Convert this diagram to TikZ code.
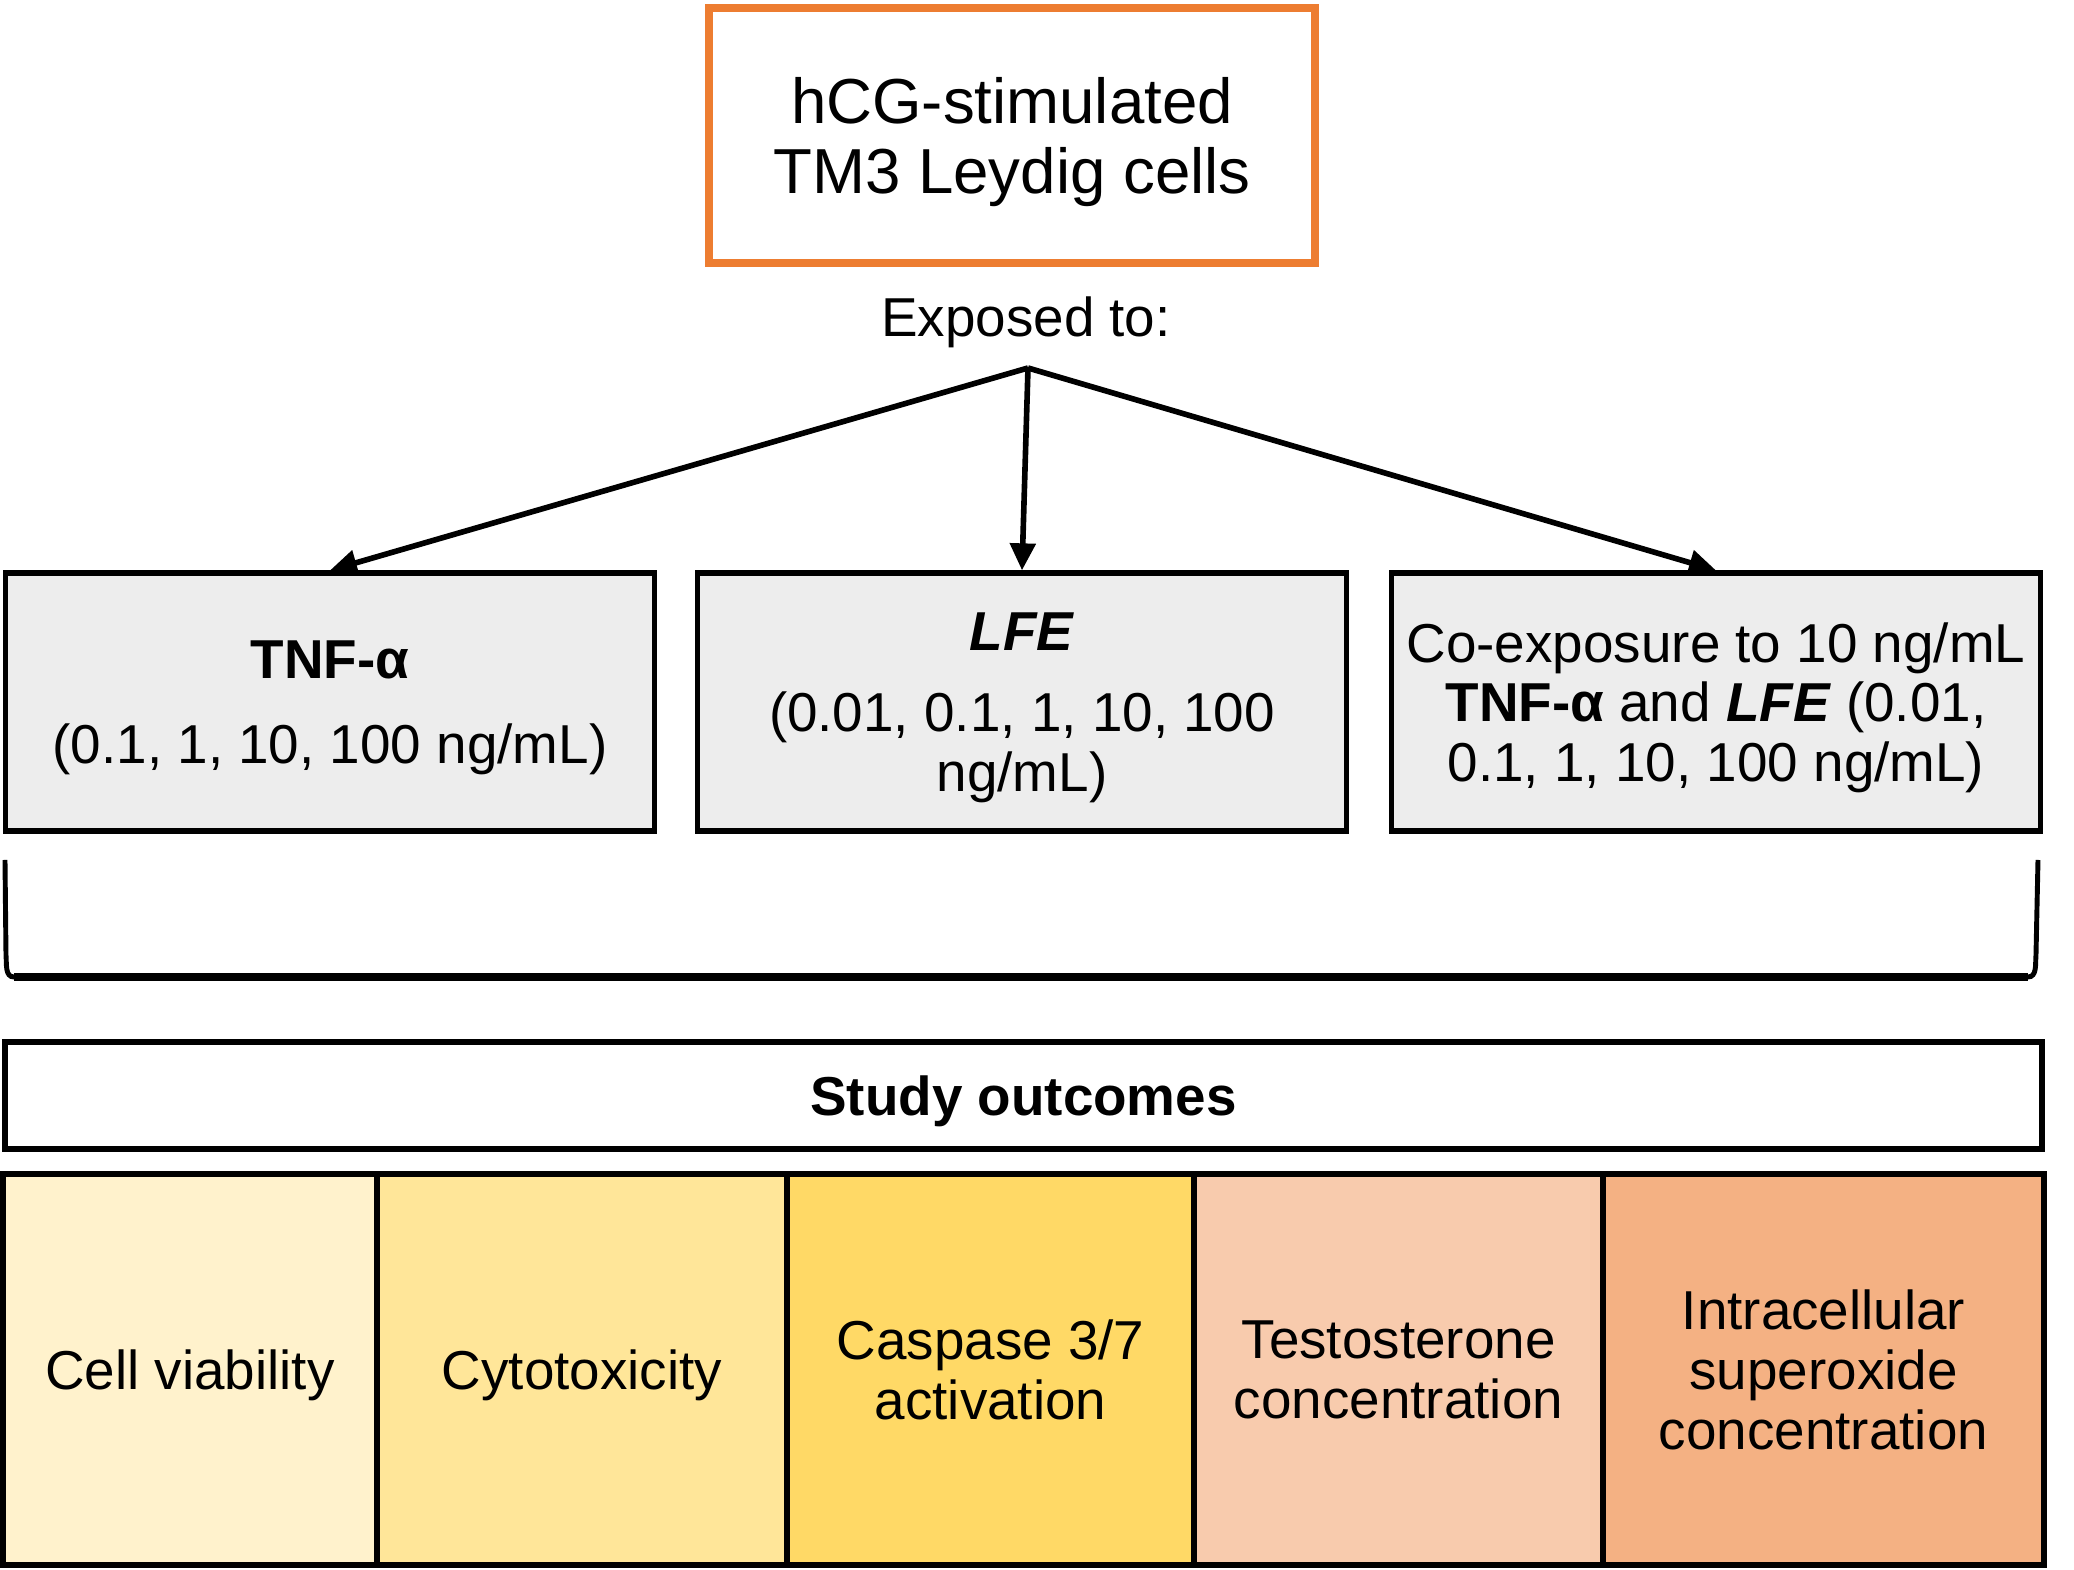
\documentclass[tikz,border=0pt]{standalone}
\usepackage{fontspec}
\setmainfont{Liberation Sans}
\usepackage{tikz}
\usetikzlibrary{positioning, arrows.meta}

\definecolor{cellorange}{HTML}{ED7D31}
\definecolor{groupgray}{HTML}{EDEDED}
\definecolor{outA}{HTML}{FFF2CC}
\definecolor{outB}{HTML}{FFE699}
\definecolor{outC}{HTML}{FFD966}
\definecolor{outD}{HTML}{F8CBAD}
\definecolor{outE}{HTML}{F4B183}

\begin{document}
\begin{tikzpicture}[
    cellbox/.style={rectangle, draw=cellorange, line width=2.3pt, minimum width=6.06cm,
                  minimum height=2.55cm, align=center, text depth=0pt,
                  font=\fontsize{18.1}{19.9}\selectfont},
    groupbox/.style={rectangle, draw=black, line width=1.5pt, fill=groupgray, minimum width=6.49cm,
                  minimum height=2.58cm, align=center, text depth=0pt,
                  font=\fontsize{15.6}{17}\selectfont},
    outcome/.style={rectangle, draw=black, line width=1.5pt, minimum height=3.91cm,
                  align=center, text depth=0pt, font=\fontsize{15.6}{17}\selectfont},
    arrow/.style={-{Triangle[length=2.7mm, width=2.5mm]}, line width=1.6pt},
    textlabel/.style={text depth=0pt, font=\fontsize{15.6}{17}\selectfont}
]
    \useasboundingbox (0, 0) rectangle (20.74, 15.70);

    % Cells
    \node[cellbox] (cells) at (10.12, 14.345) {hCG-stimulated\\TM3 Leydig cells};
    \node[textlabel] (exposed) at (10.26, 12.53) {Exposed to:};
    \coordinate (split) at (10.28, 12.02);

    % Exposure groups
    \node[groupbox] (tnf) at (3.30, 8.68) {\textbf{TNF-α}\\[7pt](0.1, 1, 10, 100 ng/mL)};
    \node[groupbox] (lfe) at (10.22, 8.68) {\textbf{\textit{LFE}}\\[6pt](0.01, 0.1, 1, 10, 100\\ng/mL)};
    \node[groupbox] (coexp) at (17.16, 8.68) {Co-exposure to 10 ng/mL\\\textbf{TNF-α} and \textbf{\textit{LFE}} (0.01,\\0.1, 1, 10, 100 ng/mL)};

    % Arrows
    \draw[arrow, line join=round] (split) -- (tnf.north);
    \draw[arrow] (split) -- (lfe.north);
    \draw[arrow, line join=round] (split) -- (coexp.north);

    % Bracket
    \draw[line width=1.4pt] (0.05, 7.10) -- (0.06, 6.15) to[out=-85, in=180] (0.14, 5.93)
        -- (20.28, 5.93) to[out=0, in=-95] (20.36, 6.15) -- (20.38, 7.10);
    \draw[line width=2.2pt] (0.14, 5.93) -- (20.28, 5.93);

    % Study outcomes
    \node[rectangle, draw=black, line width=1.5pt, minimum width=20.37cm, minimum height=1.07cm,
          text depth=0pt, font=\fontsize{15.6}{17}\selectfont\bfseries] (outcomes) at (10.235, 4.745) {Study outcomes};

    \node[outcome, fill=outA, minimum width=3.74cm] (viab) at (1.90, 2.005) {Cell viability};
    \node[outcome, fill=outB, minimum width=4.10cm] (cytox) at (5.82, 2.005) {Cytotoxicity};
    \node[outcome, fill=outC, minimum width=4.07cm] (casp) at (9.905, 2.005) {Caspase 3/7\\activation};
    \node[outcome, fill=outD, minimum width=4.09cm] (testo) at (13.985, 2.005) {Testosterone\\concentration};
    \node[outcome, fill=outE, minimum width=4.41cm] (super) at (18.235, 2.005) {Intracellular\\superoxide\\concentration};

\end{tikzpicture}
\end{document}
